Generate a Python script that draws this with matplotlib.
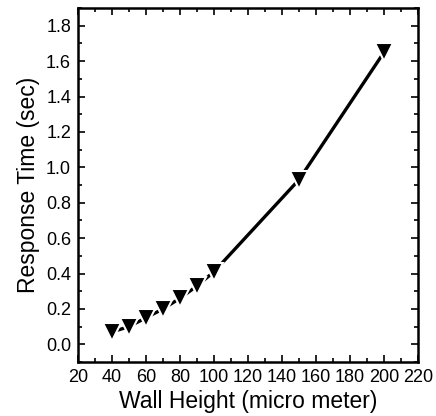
import numpy as np
import matplotlib
matplotlib.use("Agg")
import matplotlib.pyplot as plt
from matplotlib.ticker import MultipleLocator

plt.rcParams['font.family'] = ['Liberation Sans', 'DejaVu Sans']

wall_height = [40, 50, 60, 70, 80, 90, 100, 150, 200]
response_time = [0.07, 0.10, 0.15, 0.20, 0.26, 0.33, 0.41, 0.93, 1.65]

fig = plt.figure(figsize=(4.36, 4.16), dpi=100)
ax = fig.add_axes([78 / 436, 54 / 416, 340 / 436, 354 / 416])

ax.plot(wall_height, response_time, color='black', lw=2.4, marker='v',
        markersize=12.5, markerfacecolor='black', markeredgecolor='white',
        markeredgewidth=1.5)

ax.set_xlim(20, 220)
ax.set_ylim(-0.1, 1.9)
ax.xaxis.set_major_locator(MultipleLocator(20))
ax.xaxis.set_minor_locator(MultipleLocator(10))
ax.yaxis.set_major_locator(MultipleLocator(0.2))
ax.yaxis.set_minor_locator(MultipleLocator(0.1))
ax.yaxis.set_major_formatter(plt.FormatStrFormatter('%.1f'))

ax.tick_params(which='both', direction='in', top=True, right=True, labelsize=13, width=1.2)
ax.tick_params(which='major', length=5, pad=5)
ax.tick_params(which='minor', length=3)
for s in ax.spines.values():
    s.set_linewidth(1.8)

ax.set_xlabel('Wall Height (micro meter)', fontsize=16.5, labelpad=3)
ax.set_ylabel('Response Time (sec)', fontsize=16.5, labelpad=4)

fig.savefig('out.png', dpi=100)
